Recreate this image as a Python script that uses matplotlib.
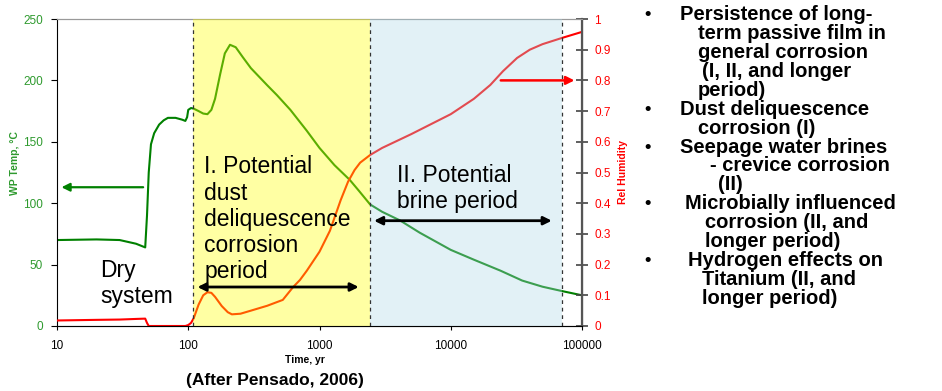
import numpy as np
import matplotlib.pyplot as plt

plt.rcParams['font.family'] = ['Liberation Sans', 'DejaVu Sans']

# WP temperature (left axis)
temp_years = [10, 20, 30, 40, 47, 48.5, 50, 52, 55, 60, 65, 70, 80, 90, 95, 98, 100, 105,
              110, 120, 130, 140, 150, 160, 175, 190, 208, 230, 260, 300, 400, 474, 600,
              800, 1000, 1300, 1700, 2000, 2430, 3000, 4100, 5800, 10000, 15000, 24000,
              35000, 50000, 70000, 100000]
temp_c = [70, 70.5, 70, 67, 64, 90, 125, 148, 157, 164, 167.5, 169.5, 169.5, 168, 167, 170,
          176, 177.5, 177, 175, 173, 172.5, 176, 185, 205, 222, 229, 227, 219, 210, 196,
          188, 176, 159, 145, 131, 119, 110, 99, 93, 86, 76, 62, 54, 45, 37, 32, 28.5, 25]

# relative humidity (right axis)
rh_years = [10, 20, 30, 40, 47, 48.5, 50, 60, 80, 95, 100, 105, 110, 120, 130, 140, 150,
            160, 180, 200, 215, 250, 300, 400, 525, 630, 710, 800, 1000, 1200, 1450, 1650,
            1850, 2040, 2430, 3000, 5000, 10000, 15000, 20000, 25000, 32000, 40000, 50000,
            70000, 100000]
rh = [0.018, 0.02, 0.021, 0.023, 0.024, 0.01, 0.0, 0.0, 0.0, 0.0, 0.003, 0.01, 0.025,
      0.07, 0.1, 0.11, 0.108, 0.095, 0.065, 0.045, 0.038, 0.04, 0.05, 0.066, 0.085, 0.127,
      0.15, 0.18, 0.242, 0.31, 0.41, 0.47, 0.508, 0.532, 0.557, 0.58, 0.625, 0.69, 0.74,
      0.785, 0.83, 0.873, 0.9, 0.918, 0.938, 0.958]

# period boundaries (yr)
period1 = (109, 2430)
period2 = (2430, 70000)

x_ticks = [10, 100, 1000, 10000, 100000]
temp_ticks = [0, 50, 100, 150, 200, 250]
rh_ticks = [0, 0.1, 0.2, 0.3, 0.4, 0.5, 0.6, 0.7, 0.8, 0.9, 1]

bullet_lines = [
    (True, 680, "Persistence of long-"),
    (False, 698, "term passive film in"),
    (False, 698, "general corrosion"),
    (False, 702, "(I, II, and longer"),
    (False, 698, "period)"),
    (True, 680, "Dust deliquescence"),
    (False, 698, "corrosion (I)"),
    (True, 680, "Seepage water brines"),
    (False, 710, "- crevice corrosion"),
    (False, 718, "(II)"),
    (True, 685, "Microbially influenced"),
    (False, 705, "corrosion (II, and"),
    (False, 705, "longer period)"),
    (True, 688, "Hydrogen effects on"),
    (False, 702, "Titanium (II, and"),
    (False, 702, "longer period)"),
]

W, H = 942, 391
fig = plt.figure(figsize=(W / 100, H / 100), dpi=100)
ax = fig.add_axes([57 / W, 1 - 326 / H, (582 - 57) / W, (326 - 19) / H])
ax2 = ax.twinx()

green = '#008000'
red = '#ff0000'

ax.plot(temp_years, temp_c, color=green, lw=1.5, zorder=2)
ax2.plot(rh_years, rh, color=red, lw=1.5, zorder=2)

# shaded periods drawn over the lines, like the original
ax2.axvspan(*period1, color='#ffff00', alpha=0.36, lw=0, zorder=3)
ax2.axvspan(*period2, color='#add8e6', alpha=0.35, lw=0, zorder=3)
for xb in [period1[0], period1[1], period2[1]]:
    ax2.axvline(xb, color='#333333', ls=(0, (3, 3)), lw=0.9, zorder=4)

ax.set_xscale('log')
ax.set_xlim(10, 100000)
ax.set_ylim(0, 250)
ax2.set_ylim(0, 1)
ax.set_xticks(x_ticks)
ax.set_xticklabels([str(t) for t in x_ticks], fontsize=8.5)
ax.xaxis.set_minor_locator(plt.NullLocator())
ax.set_yticks(temp_ticks)
ax.set_yticklabels([str(t) for t in temp_ticks], fontsize=8.5, color='#2e9a2e')
ax2.set_yticks(rh_ticks)
ax2.set_yticklabels([('%g' % t) for t in rh_ticks], fontsize=8.5, color=red)
ax.tick_params(axis='x', length=3, pad=7)
ax.tick_params(axis='y', length=4, pad=6)
ax2.tick_params(axis='y', direction='inout', length=8, width=1.2, color='#444444', pad=5)

ax.spines['left'].set_color('black')
ax.spines['top'].set_color('#999999')
ax.spines['bottom'].set_color('#666666')
ax2.spines['right'].set_color('#555555')
ax2.spines['right'].set_linewidth(1.6)
ax2.spines['top'].set_color('#999999')
ax2.spines['left'].set_visible(False)

ax.set_xlabel('Time, yr', fontsize=7.5, fontweight='bold', labelpad=4)
ax.xaxis.set_label_coords((305 - 57) / (582 - 57), -0.095)
ax.set_ylabel('WP Temp, °C', fontsize=7.5, fontweight='bold', color='#2e9a2e')
ax.yaxis.set_label_coords(-0.070, 0.53)
ax2.set_ylabel('Rel Humidity', fontsize=7.5, fontweight='bold', color=red)
ax2.yaxis.set_label_coords(1.068, 0.5)

# arrows
ax.annotate('', xy=(10.3, 113), xytext=(47.6, 113),
            arrowprops=dict(arrowstyle='-|>', color=green, lw=1.6, mutation_scale=12))
ax2.annotate('', xy=(92000, 0.8), xytext=(22900, 0.8),
             arrowprops=dict(arrowstyle='-|>', color=red, lw=1.8, mutation_scale=12), zorder=5)
ax2.annotate('', xy=(112, 0.127), xytext=(2090, 0.127),
             arrowprops=dict(arrowstyle='<|-|>', color='black', lw=2, mutation_scale=12), zorder=5)
ax2.annotate('', xy=(2480, 0.343), xytext=(61800, 0.343),
             arrowprops=dict(arrowstyle='<|-|>', color='black', lw=2, mutation_scale=12), zorder=5)

ax2.text(132, 0.556, 'I. Potential\ndust\ndeliquescence\ncorrosion\nperiod', fontsize=16.5,
         va='top', ha='left', linespacing=1.18, zorder=6)
ax2.text(3900, 0.527, 'II. Potential\nbrine period', fontsize=16.5,
         va='top', ha='left', linespacing=1.18, zorder=6)
ax2.text(21.3, 0.219, 'Dry\nsystem', fontsize=16.5, va='top', ha='left',
         linespacing=1.18, zorder=6)

fig.text(275 / W, 1 - 381 / H, '(After Pensado, 2006)', fontsize=12.5, fontweight='bold',
         ha='center', va='center')

for i, (bullet, xpx, line) in enumerate(bullet_lines):
    ypx = 15 + 18.87 * i
    if bullet:
        fig.text(648 / W, 1 - ypx / H, '•', fontsize=13, fontweight='bold',
                 ha='center', va='center')
    fig.text(xpx / W, 1 - ypx / H, line, fontsize=14.5, fontweight='bold',
             ha='left', va='center')

fig.savefig('out.png', dpi=100)
